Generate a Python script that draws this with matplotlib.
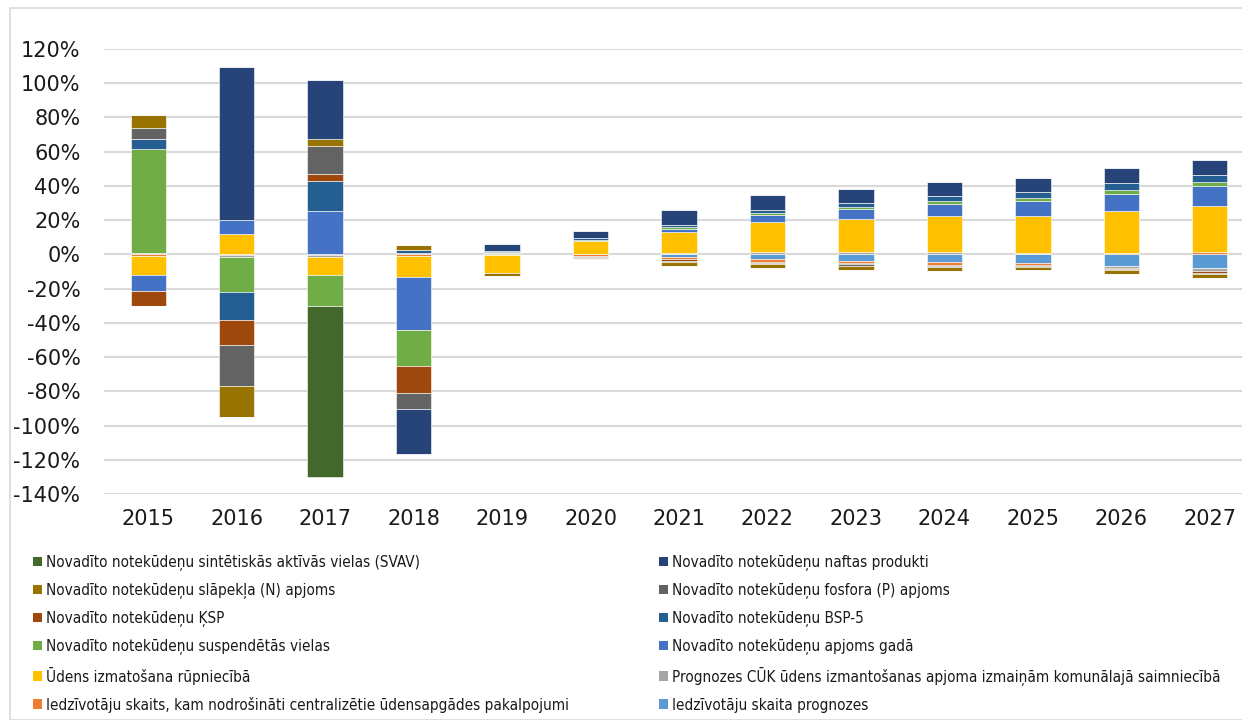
import matplotlib
matplotlib.use("Agg")
import matplotlib.pyplot as plt
import numpy as np
from matplotlib.patches import Rectangle, Patch

years = ["2015", "2016", "2017", "2018", "2019", "2020", "2021", "2022", "2023", "2024", "2025", "2026", "2027"]

series_names = [
    "Novadīto notekūdeņu sintētiskās aktīvās vielas (SVAV)",
    "Novadīto notekūdeņu naftas produkti",
    "Novadīto notekūdeņu slāpekļa (N) apjoms",
    "Novadīto notekūdeņu fosfora (P) apjoms",
    "Novadīto notekūdeņu ĶSP",
    "Novadīto notekūdeņu BSP-5",
    "Novadīto notekūdeņu suspendētās vielas",
    "Novadīto notekūdeņu apjoms gadā",
    "Ūdens izmatošana rūpniecībā",
    "Prognozes CŪK ūdens izmantošanas apjoma izmaiņām komunālajā saimniecībā",
    "Iedzīvotāju skaits, kam nodrošināti centralizētie ūdensapgādes pakalpojumi",
    "Iedzīvotāju skaita prognozes",
]

# values in %
svav      = [0, 0, -100, 0, 0, 0, 0, 0, 0, 0, 0, 0, 0]
nafta     = [0, 89.4, 34.1, -26.3, 4.1, 4.1, 8.7, 8.8, 8.4, 8.4, 8.6, 8.4, 8.6]
slapeklis = [7.6, -18.1, 4.3, 3.0, -1.8, -0.9, -2.4, -2.4, -2.6, -2.5, -2.3, -2.4, -2.4]
fosfors   = [6.7, -23.8, 16.5, -9.6, 0, -0.4, -0.7, -0.6, -0.7, -0.6, -0.5, -0.6, -0.9]
ksp       = [-8.9, -14.6, 4.1, -15.6, 0, -0.2, -0.7, -0.5, -0.7, -0.5, -0.5, -0.5, -0.8]
bsp5      = [5.9, -16.6, 17.6, 1.3, 0.6, 1.2, 1.2, 1.6, 2.3, 2.9, 3.3, 4.1, 4.5]
suspend   = [60.8, -20.0, -17.9, -21.3, 0.4, 0.5, 1.0, 1.3, 1.4, 1.6, 2.0, 2.3, 2.4]
apjoms    = [-9.2, 8.1, 25.1, -30.5, 0.4, 0.3, 1.9, 4.1, 5.4, 7.0, 8.4, 9.8, 11.3]
rupnieciba = [-11.3, 12.2, -10.7, -12.5, -10.2, 7.7, 12.3, 17.1, 19.6, 21.3, 22.0, 25.0, 26.9]
cuk_progn = [0.6, -1.3, -0.8, 1.0, 0.7, -0.5, 0.7, 1.6, 1.3, 1.3, 0.6, -1.1, -2.0]
iedz_centr = [-0.8, -0.5, -0.6, -0.9, -0.5, -0.8, -1.1, -1.4, -1.3, -1.4, -1.0, 0.6, 1.5]
iedz_progn = [0, 0, 0, 0, 0, 0, -1.8, -2.9, -3.8, -4.6, -5.1, -6.8, -7.8]

colors = ["#43682B", "#264478", "#997300", "#636363", "#9E480E", "#255E91",
          "#70AD47", "#4472C4", "#FFC000", "#A5A5A5", "#ED7D31", "#5B9BD5"]

data = [svav, nafta, slapeklis, fosfors, ksp, bsp5, suspend, apjoms,
        rupnieciba, cuk_progn, iedz_centr, iedz_progn]

W, H = 1242, 720
fig = plt.figure(figsize=(W / 100, H / 100), dpi=100)
fig.patch.set_facecolor("white")

# chart border
fig.patches.append(Rectangle((10 / W, 0), 2.0, 1 - 8 / H, transform=fig.transFigure,
                             fill=False, edgecolor="#D9D9D9", linewidth=1.2))

left_px, right_px = 104, 1254
top_px, bot_px = 49, 494
ax = fig.add_axes([left_px / W, 1 - bot_px / H, (right_px - left_px) / W, (bot_px - top_px) / H])

x = np.arange(len(years))
pos_base = np.zeros(len(years))
neg_base = np.zeros(len(years))
# stack from series 12 (closest to zero) outward to series 1
for i in range(len(data) - 1, -1, -1):
    vals = np.array(data[i], dtype=float)
    pos = np.where(vals > 0, vals, 0)
    neg = np.where(vals < 0, vals, 0)
    ax.bar(x, pos, bottom=pos_base, width=0.4, color=colors[i],
           edgecolor="#FFFFFF", linewidth=0.4, zorder=3)
    ax.bar(x, neg, bottom=neg_base, width=0.4, color=colors[i],
           edgecolor="#FFFFFF", linewidth=0.4, zorder=3)
    pos_base += pos
    neg_base += neg

ax.set_xlim(-0.5, len(years) - 0.5)
ax.set_ylim(-140, 120)
yt = np.arange(-140, 121, 20)
ax.set_yticks(yt)
ax.set_yticklabels([f"{v}%" for v in yt])
ax.set_xticks(x)
ax.set_xticklabels(years)
ax.yaxis.grid(True, color="#D9D9D9", linewidth=1.5, zorder=0)
ax.set_axisbelow(True)
for s in ax.spines.values():
    s.set_visible(False)
ax.tick_params(axis="both", length=0, labelsize=15, colors="#1A1A1A")
ax.tick_params(axis="y", pad=17)
ax.tick_params(axis="x", pad=11)

# legend in two columns (row-wise order)
handles = [Patch(facecolor=c) for c in colors]
left_idx = [0, 2, 4, 6, 8, 10]
right_idx = [1, 3, 5, 7, 9, 11]
leg_kw = dict(frameon=False, loc="upper left", handlelength=0.6, handleheight=0.6,
              handletextpad=0.25, labelspacing=0.78, borderpad=0, borderaxespad=0,
              prop={"size": 11, "stretch": "condensed"})
l1 = fig.legend([handles[i] for i in left_idx], [series_names[i] for i in left_idx],
                bbox_to_anchor=(33 / W, 1 - 555 / H), **leg_kw)
l2 = fig.legend([handles[i] for i in right_idx], [series_names[i] for i in right_idx],
                bbox_to_anchor=(659 / W, 1 - 555 / H), **leg_kw)
for l in (l1, l2):
    for t in l.get_texts():
        t.set_color("#1A1A1A")

fig.savefig("out.png", dpi=100)
